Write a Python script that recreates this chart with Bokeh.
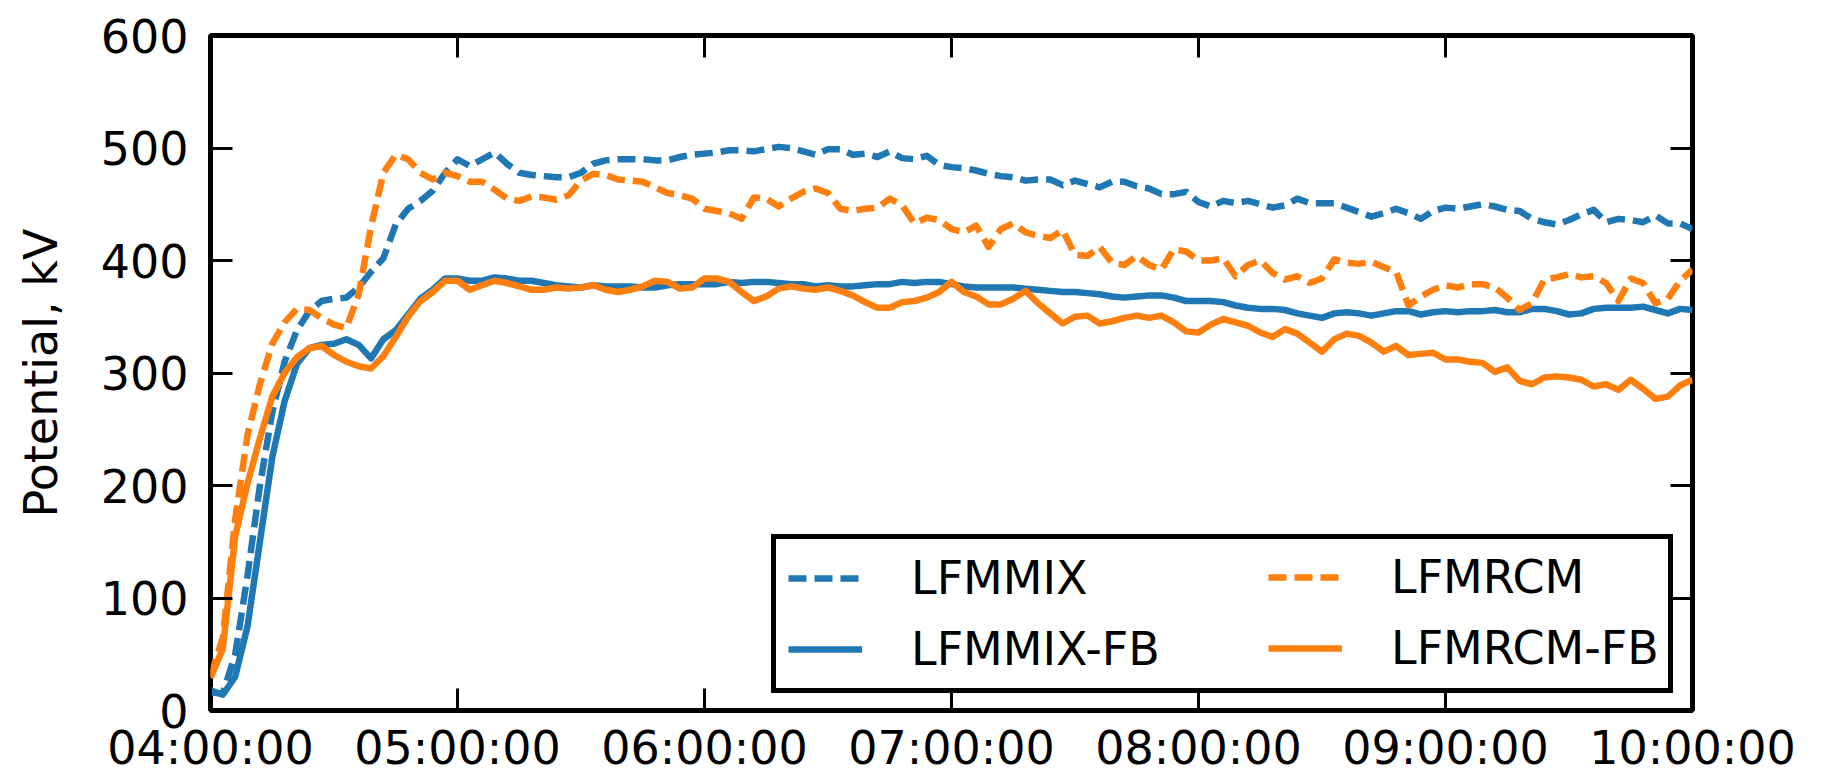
from bokeh.plotting import figure
from bokeh.models import Range1d, LinearAxis, FixedTicker, Legend, LegendItem
from bokeh.embed import file_html
from bokeh.resources import INLINE

# ---------------- data ----------------
minutes = list(range(0, 361, 3))          # minutes after 04:00:00
tick_hours = [4, 5, 6, 7, 8, 9, 10]
tick_labels = ["04:00:00", "05:00:00", "06:00:00", "07:00:00",
               "08:00:00", "09:00:00", "10:00:00"]
y_ticks = [0, 100, 200, 300, 400, 500, 600]

lfmmix = [16, 15, 50, 120, 200, 265, 310, 338, 355, 364, 366, 367, 376, 390, 402, 432, 446, 453, 462, 478, 490,
          484, 490, 496, 486, 478, 476, 475, 474, 474, 478, 486, 489, 490, 490, 490, 489, 489, 492, 494, 495,
          496, 498, 498, 497, 499, 501, 500, 497, 494, 499, 499, 494, 495, 492, 497, 491, 490, 493, 485, 483,
          482, 480, 477, 475, 474, 471, 472, 472, 467, 471, 468, 465, 470, 470, 466, 464, 459, 459, 461, 452,
          448, 453, 451, 453, 450, 447, 449, 455, 451, 451, 451, 447, 443, 439, 442, 446, 442, 437, 444, 447,
          446, 448, 450, 448, 445, 444, 437, 434, 432, 436, 441, 445, 434, 437, 436, 434, 440, 433, 433, 428]

lfmmix_fb = [18, 14, 30, 75, 150, 225, 275, 308, 322, 325, 326, 330, 325, 313, 330, 338, 352, 366, 374, 384, 384,
             382, 382, 385, 384, 382, 382, 380, 378, 377, 376, 378, 377, 377, 377, 376, 376, 378, 379, 379, 379,
             379, 381, 380, 381, 381, 380, 379, 379, 377, 378, 377, 377, 378, 379, 379, 381, 380, 381, 381, 379,
             377, 376, 376, 376, 376, 375, 374, 373, 372, 372, 371, 370, 368, 367, 368, 369, 369, 367, 364, 364,
             364, 363, 360, 358, 357, 357, 356, 353, 351, 349, 353, 354, 353, 351, 353, 355, 355, 352, 354, 355,
             354, 355, 355, 356, 354, 354, 357, 357, 355, 352, 353, 357, 358, 358, 358, 359, 356, 353, 357, 356]

lfmrcm = [30, 65, 170, 245, 290, 326, 345, 357, 356, 349, 343, 340, 370, 430, 478, 494, 490, 478, 472, 478, 475,
          470, 470, 463, 455, 453, 457, 456, 454, 458, 471, 477, 476, 472, 471, 470, 465, 460, 458, 455, 446,
          444, 442, 437, 456, 455, 448, 455, 461, 464, 460, 446, 444, 446, 447, 455, 449, 433, 438, 436, 428,
          425, 431, 412, 428, 433, 425, 422, 420, 427, 405, 404, 412, 398, 396, 404, 396, 392, 410, 408, 400,
          400, 402, 386, 396, 400, 389, 383, 386, 380, 384, 401, 398, 397, 399, 394, 390, 360, 368, 374, 378,
          376, 379, 379, 376, 367, 356, 362, 383, 385, 388, 385, 386, 380, 364, 384, 380, 362, 366, 382, 392]

lfmrcm_fb = [29, 55, 155, 202, 242, 279, 300, 314, 322, 324, 316, 310, 306, 304, 315, 332, 350, 364, 372, 382, 382,
             374, 378, 382, 380, 377, 374, 374, 376, 375, 376, 378, 374, 372, 374, 377, 382, 381, 375, 376, 384,
             384, 381, 372, 364, 368, 375, 377, 375, 374, 376, 373, 369, 363, 358, 358, 363, 364, 367, 372, 381,
             372, 368, 361, 361, 366, 373, 362, 353, 344, 350, 351, 344, 346, 349, 351, 349, 351, 345, 337, 336,
             343, 348, 345, 342, 336, 332, 339, 335, 327, 319, 330, 335, 333, 327, 319, 324, 316, 317, 318, 312,
             312, 310, 309, 301, 305, 293, 290, 296, 297, 296, 294, 288, 290, 285, 294, 286, 277, 279, 289, 294]

hours = [4 + m / 60 for m in minutes]

BLUE = "#1f77b4"
ORANGE = "#ff7f0e"
FONT = "DejaVu Sans"
FS = "46px"

p = figure(width=1832, height=780, output_backend="svg", toolbar_location=None,
           x_range=Range1d(4, 10), y_range=Range1d(0, 600),
           min_border_left=210, min_border_right=140, min_border_top=35, min_border_bottom=70,
           background_fill_color="white", border_fill_color="white")
p.xgrid.visible = False
p.ygrid.visible = False
p.outline_line_color = "black"
p.outline_line_width = 5
p.outline_line_alpha = 1

xt = FixedTicker(ticks=tick_hours)
yt = FixedTicker(ticks=y_ticks)

def style_axis(ax, ticker, ticks, labels=None):
    ax.ticker = ticker
    ax.axis_line_color = None
    ax.major_tick_in = 22
    ax.major_tick_out = 0
    ax.major_tick_line_width = 3
    ax.major_tick_line_color = "black"
    ax.minor_tick_line_color = None
    ax.major_label_text_font = FONT
    ax.major_label_text_color = "black"
    if labels is not None:
        ax.major_label_text_font_size = FS
        ax.major_label_overrides = dict(zip(ticks, labels))
    else:
        ax.major_label_text_font_size = "1px"
        ax.major_label_standoff = 0
        ax.major_label_overrides = {t: "" for t in ticks}

style_axis(p.xaxis[0], xt, tick_hours, tick_labels)
p.xaxis[0].major_label_standoff = 10
style_axis(p.yaxis[0], yt, y_ticks, [str(v) for v in y_ticks])
p.yaxis[0].major_label_standoff = 22
p.yaxis[0].axis_label = "Potential, kV"
p.yaxis[0].axis_label_text_font = FONT
p.yaxis[0].axis_label_text_font_size = FS
p.yaxis[0].axis_label_text_font_style = "normal"
p.yaxis[0].axis_label_text_color = "black"
p.yaxis[0].axis_label_standoff = 30

right = LinearAxis()
style_axis(right, yt, y_ticks)
p.add_layout(right, "right")
top = LinearAxis()
style_axis(top, xt, tick_hours)
p.add_layout(top, "above")

LW = 6.5
dash = "18 8"
r1 = p.line(hours, lfmmix, line_color=BLUE, line_width=LW, line_dash=dash, line_join="round")
r2 = p.line(hours, lfmmix_fb, line_color=BLUE, line_width=LW, line_join="round")
r3 = p.line(hours, lfmrcm, line_color=ORANGE, line_width=LW, line_dash=dash, line_join="round")
r4 = p.line(hours, lfmrcm_fb, line_color=ORANGE, line_width=LW, line_join="round")

def make_legend(items, loc, border, label_width=None):
    lg = Legend(items=items, location=loc, orientation="vertical",
                padding=12, spacing=17, margin=0,
                glyph_width=74, glyph_height=40, label_standoff=49,
                label_text_font=FONT, label_text_font_size=FS, label_text_color="black",
                background_fill_color="white",
                background_fill_alpha=1 if border else 0,
                border_line_color="black" if border else None,
                border_line_alpha=1,
                border_line_width=5)
    if label_width is not None:
        lg.label_width = label_width
    return lg

leg_a = make_legend([LegendItem(label="LFMMIX", renderers=[r1]),
                     LegendItem(label="LFMMIX-FB", renderers=[r2])], (561, 17), True, 745)
leg_b = make_legend([LegendItem(label="LFMRCM", renderers=[r3]),
                     LegendItem(label="LFMRCM-FB", renderers=[r4])], (1058, 35), False)
p.add_layout(leg_a, "center")
p.add_layout(leg_b, "center")

open("out.html", "w").write(file_html(p, INLINE))
